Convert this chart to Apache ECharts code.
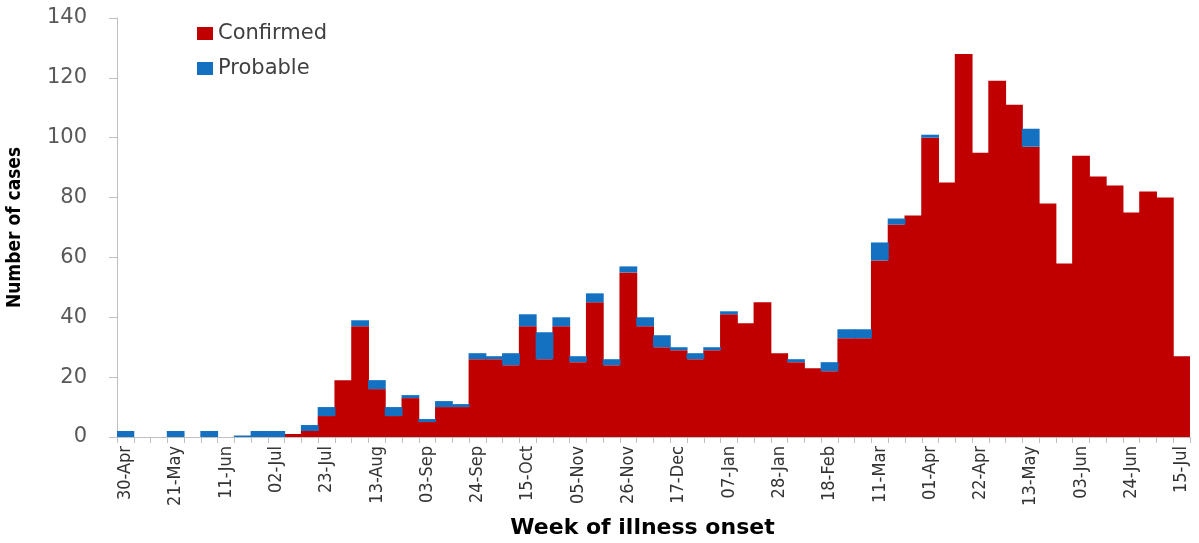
<!DOCTYPE html>
<html>
<head>
<meta charset="utf-8">
<title>Week of illness onset</title>
<script src="https://cdn.jsdelivr.net/npm/echarts@6/dist/echarts.min.js"></script>
<style>
  html, body { margin: 0; padding: 0; background: #fff; }
  #main { width: 1199px; height: 543px; }
</style>
</head>
<body>
<div id="main"></div>
<script>
// weekly categories, 30-Apr to 15-Jul of the following year
var weeks = ["30-Apr", "07-May", "14-May", "21-May", "28-May", "04-Jun", "11-Jun", "18-Jun", "25-Jun",
    "02-Jul", "09-Jul", "16-Jul", "23-Jul", "30-Jul", "06-Aug", "13-Aug", "20-Aug", "27-Aug",
    "03-Sep", "10-Sep", "17-Sep", "24-Sep", "01-Oct", "08-Oct", "15-Oct", "22-Oct", "29-Oct",
    "05-Nov", "12-Nov", "19-Nov", "26-Nov", "03-Dec", "10-Dec", "17-Dec", "24-Dec", "31-Dec",
    "07-Jan", "14-Jan", "21-Jan", "28-Jan", "04-Feb", "11-Feb", "18-Feb", "25-Feb", "04-Mar",
    "11-Mar", "18-Mar", "25-Mar", "01-Apr", "08-Apr", "15-Apr", "22-Apr", "29-Apr", "06-May",
    "13-May", "20-May", "27-May", "03-Jun", "10-Jun", "17-Jun", "24-Jun", "01-Jul", "08-Jul", "15-Jul"];

var confirmed = [0, 0, 0, 0, 0, 0, 0, 0, 0,
    0, 1, 2, 7, 19, 37, 16, 7, 13,
    5, 10, 10, 26, 26, 24, 37, 26, 37,
    25, 45, 24, 55, 37, 30, 29, 26, 29,
    41, 38, 45, 28, 25, 23, 22, 33, 33,
    59, 71, 74, 100, 85, 128, 95, 119, 111,
    97, 78, 58, 94, 87, 84, 75, 82, 80, 27];

var probable = [2, 0, 0, 2, 0, 2, 0, 0.5, 2,
    2, 0, 2, 3, 0, 2, 3, 3, 1,
    1, 2, 1, 2, 1, 4, 4, 9, 3,
    2, 3, 2, 2, 3, 4, 1, 2, 1,
    1, 0, 0, 0, 1, 0, 3, 3, 3,
    6, 2, 0, 1, 0, 0, 0, 0, 0,
    6, 0, 0, 0, 0, 0, 0, 0, 0, 0];

var yTicks = [0, 20, 40, 60, 80, 100, 120, 140];

window.onload = function () {

    var myChart = echarts.init(document.getElementById('main'));

    var option = {
        animation: false,
        backgroundColor: '#fff',
        textStyle: { fontFamily: 'DejaVu Sans' },
        grid: { left: 117, right: 9, top: 18, bottom: 106, containLabel: false, outerBoundsMode: 'none' },
        legend: {
            orient: 'vertical',
            left: 192,
            top: 18,
            itemWidth: 16,
            itemHeight: 13,
            itemGap: 14,
            icon: 'rect',
            textStyle: { fontSize: 21, color: '#404040', fontFamily: 'DejaVu Sans' },
            data: ['Confirmed', 'Probable']
        },
        xAxis: {
            type: 'category',
            data: weeks,
            name: 'Week of illness onset',
            nameLocation: 'middle',
            nameGap: 80,
            nameTextStyle: {
                fontSize: 22, fontWeight: 'bold', color: '#000', fontFamily: 'DejaVu Sans',
                padding: [0, 22, 0, 0]
            },
            axisLine: { lineStyle: { color: '#bfbfbf', width: 1 } },
            axisTick: { show: true, interval: 0, length: 6, lineStyle: { color: '#bfbfbf' } },
            axisLabel: {
                interval: 2,
                rotate: 90,
                margin: 9,
                fontSize: 18,
                color: '#333',
                fontFamily: 'DejaVu Sans Condensed'
            }
        },
        yAxis: {
            type: 'value',
            min: yTicks[0],
            max: yTicks[yTicks.length - 1],
            interval: 20,
            name: 'Number of cases',
            nameLocation: 'middle',
            nameGap: 92,
            nameRotate: 90,
            nameTextStyle: { fontSize: 19, fontWeight: 'bold', color: '#000', fontFamily: 'DejaVu Sans Condensed' },
            axisLine: { show: true, lineStyle: { color: '#bfbfbf', width: 1 } },
            axisTick: { show: true, length: 8, lineStyle: { color: '#bfbfbf' } },
            splitLine: { show: false },
            axisLabel: { fontSize: 21, color: '#595959', margin: 30, fontFamily: 'DejaVu Sans' }
        },
        series: [{
            name: 'Confirmed',
            type: 'bar',
            stack: 'cases',
            barWidth: '106%',
            itemStyle: { color: '#c00000' },
            data: confirmed
        }, {
            name: 'Probable',
            type: 'bar',
            stack: 'cases',
            barWidth: '106%',
            itemStyle: { color: '#1470c0' },
            data: probable
        }]
    };
    myChart.setOption(option);
    window.addEventListener('resize', function () {
        myChart.resize();
    });

}
</script>
</body>
</html>
